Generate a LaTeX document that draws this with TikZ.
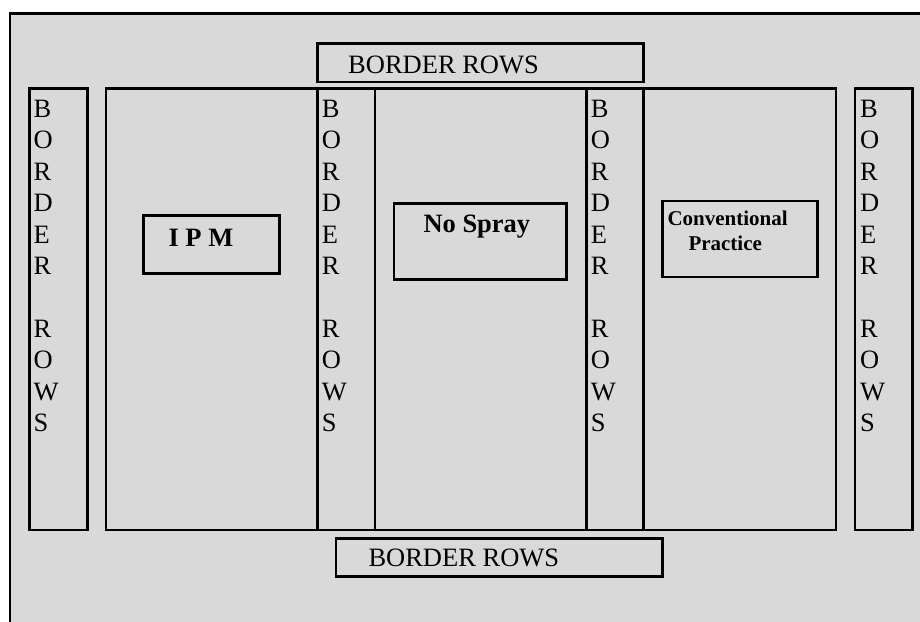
\documentclass[tikz,border=0pt]{standalone}
\usepackage{fontspec}
\setmainfont{Liberation Serif}
\definecolor{bggray}{RGB}{217,217,217}
\begin{document}
\begin{tikzpicture}[x=1pt,y=-1pt,
  box/.style={draw=black,line width=2.5pt},
  lbl/.style={anchor=base west,inner sep=0pt,font=\fontsize{26.5}{31.3}\selectfont},
  blbl/.style={anchor=base west,inner sep=0pt,font=\fontsize{26.5}{31.3}\selectfont\bfseries},
  slbl/.style={anchor=base west,inner sep=0pt,font=\fontsize{21}{25}\selectfont\bfseries}]
\useasboundingbox (0,0) rectangle (920,621);
\fill[bggray] (10,13.3) rectangle (925,630);
\draw[line width=2.5pt] (925,13.3) -- (10,13.3) -- (10,630);
% border-row boxes
\draw[box] (317.5,43.5) rectangle (643.5,82);
\node[lbl] (toprows) at (348,73) {BORDER ROWS};
\draw[box] (336,538.3) rectangle (662.7,576.7);
\node[lbl] (botrows) at (368.3,566.7) {BORDER ROWS};
% outer columns and main block
\draw[box] (29.3,88.5) rectangle (87.3,530);
\draw[box] (106,88.5) rectangle (836,530);
\draw[box] (317.3,88.5) rectangle (375,530);
\draw[box] (586.7,88.5) rectangle (643.7,530);
\draw[box] (855,88.5) rectangle (912.7,530);
% vertical letters
\foreach \cx in {33.3,321.7,590.7,860}{
  \foreach \i/\ch in {0/B,1/O,2/R,3/D,4/E,5/R,7/R,8/O,9/W,10/S}{
    \node[lbl] at (\cx,117.5+31.4*\i) {\ch};
  }
}
% treatment boxes
\draw[box] (143.7,215.3) rectangle (279.7,273.7);
\node[blbl] (ipm) at (168.3,246) {I P M};
\draw[box] (394,203.3) rectangle (566.7,279.3);
\node[blbl] (nospray) at (423.3,232.3) {No Spray};
\draw[box] (662.3,201) rectangle (817.3,277);
\node[slbl] (conv) at (667.3,225) {Conventional};
\node[slbl] (prac) at (688.3,250) {Practice};
\end{tikzpicture}
\end{document}
